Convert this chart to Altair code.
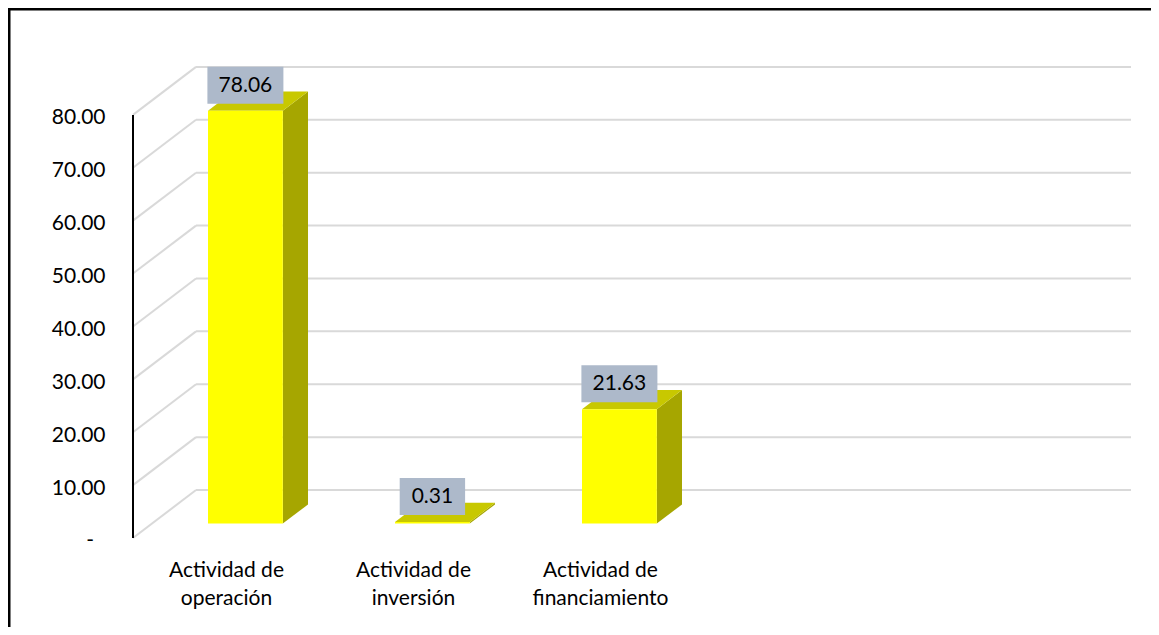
import altair as alt
import pandas as pd

# ---- data ----
categories = ["Actividad de\noperación", "Actividad de\ninversión", "Actividad de\nfinanciamiento"]
values = [78.06, 0.31, 21.63]
value_labels = ["78.06", "0.31", "21.63"]
n_slots = 5
y_ticks = [0, 10, 20, 30, 40, 50, 60, 70, 80]
zero_label = "-"

# ---- 3D projection settings (data units) ----
DX, DY = 0.337, 9.07      # depth of the back wall
Z0, Z1 = 0.3, 0.7         # depth span of the bars
B0, B1 = 0.3, 0.7         # bar span inside its slot
XMAX = n_slots + DX
YMAX = 90
W, H = 998, 476
PX = W / XMAX

FONT = "Lato"

xs = alt.Scale(domain=[0, XMAX], nice=False, zero=False)
ys = alt.Scale(domain=[0, YMAX], nice=False, zero=False)

yaxis = alt.Axis(values=y_ticks, title=None, grid=False, domain=False, ticks=False, tickSize=0,
                 labelPadding=28, labelOffset=3, labelFont=FONT, labelFontSize=21,
                 labelColor="#000000",
                 labelExpr="datum.value == 0 ? '' : format(datum.value, ',.2f')")


def X(field):
    return alt.X(field, scale=xs, axis=None)


def Y(field):
    return alt.Y(field, scale=ys, axis=yaxis)


front = pd.DataFrame({
    "x": [i + B0 + Z0 * DX for i in range(len(values))],
    "x2": [i + B1 + Z0 * DX for i in range(len(values))],
    "y": [Z0 * DY for _ in values],
    "y2": [v + Z0 * DY for v in values],
})

side_rows, top_rows = [], []
for i, v in enumerate(values):
    for z in (Z0, Z1):
        side_rows.append({"bar": i, "x": i + B1 + z * DX, "y": v + z * DY, "ybot": z * DY})
        top_rows.append({"bar": i, "y": v + z * DY, "xl": i + B0 + z * DX, "xr": i + B1 + z * DX})
side = pd.DataFrame(side_rows)
top = pd.DataFrame(top_rows)

lab_rows = []
for i, (v, t) in enumerate(zip(values, value_labels)):
    cx = i + 0.5 + Z0 * DX
    hw = (len(t) * 10.6 + 23) / 2 / PX
    lab_rows.append({"cx": cx, "xl": cx - hw, "xr": cx + hw, "y": v + Z0 * DY, "label": t})
labels = pd.DataFrame(lab_rows)

grid = pd.DataFrame({"x": [DX] * len(y_ticks), "x2": [n_slots + DX] * len(y_ticks),
                     "y": [t + DY for t in y_ticks]})
diag = pd.DataFrame({"x": [0.0] * len(y_ticks), "x2": [DX] * len(y_ticks),
                     "y": y_ticks, "y2": [t + DY for t in y_ticks]})
axis_df = pd.DataFrame({"x": [0.0], "y": [y_ticks[0]], "y2": [y_ticks[-1]]})
zero_df = pd.DataFrame({"x": [0.0], "y": [y_ticks[0]], "text": [zero_label]})
cats = pd.DataFrame({"x": [i + 0.5 for i in range(len(categories))], "y": [0.0] * len(categories),
                     "text": categories})

GRID_COLOR = "#D9D9D9"

grid_layer = alt.Chart(grid).mark_rule(color=GRID_COLOR, strokeWidth=2).encode(
    x=X("x:Q"), x2="x2:Q", y=Y("y:Q"))

diag_layer = alt.Chart(diag).mark_rule(color=GRID_COLOR, strokeWidth=2).encode(
    x=X("x:Q"), x2="x2:Q", y=Y("y:Q"), y2="y2:Q")

axis_layer = alt.Chart(axis_df).mark_rule(color="#000000", strokeWidth=2).encode(
    x=X("x:Q"), y=Y("y:Q"), y2="y2:Q")

zero_layer = alt.Chart(zero_df).mark_text(font=FONT, fontSize=21, color="#000000",
                                          align="right", baseline="middle", dx=-39, dy=3).encode(
    x=X("x:Q"), y=Y("y:Q"), text="text:N")

side_layer = alt.Chart(side).mark_area(color="#A6A600", orient="vertical").encode(
    x=X("x:Q"), y=Y("y:Q"), y2="ybot:Q", detail="bar:N")

top_layer = alt.Chart(top).mark_area(color="#C8C800", orient="horizontal").encode(
    y=Y("y:Q"), x=X("xl:Q"), x2="xr:Q", detail="bar:N")

front_layer = alt.Chart(front).mark_rect(color="#FFFF00").encode(
    x=X("x:Q"), x2="x2:Q", y=Y("y:Q"), y2="y2:Q")

box_layer = alt.Chart(labels).mark_rect(color="#ADB9CA", yOffset=-44, y2Offset=-7).encode(
    x=X("xl:Q"), x2="xr:Q", y=Y("y:Q"), y2="y:Q")

text_layer = alt.Chart(labels).mark_text(font=FONT, fontSize=21, color="#000000",
                                         baseline="middle", align="center", dy=-25).encode(
    x=X("cx:Q"), y=Y("y:Q"), text="label:N")

cat_layer = alt.Chart(cats).mark_text(font=FONT, fontSize=21, color="#000000", align="center",
                                      baseline="alphabetic", dy=39, lineBreak="\n",
                                      lineHeight=28).encode(
    x=X("x:Q"), y=Y("y:Q"), text="text:N")

border_layer = alt.Chart(pd.DataFrame({"k": [0]})).mark_rect(
    fill="transparent", stroke="#000000", strokeWidth=3).encode(
    x=alt.value(-124), y=alt.value(-53), x2=alt.value(3000), y2=alt.value(3000))

chart = alt.layer(
    grid_layer, diag_layer, axis_layer, zero_layer, side_layer, top_layer, front_layer,
    box_layer, text_layer, cat_layer, border_layer
).properties(
    width=W, height=H,
    autosize=alt.AutoSizeParams(type="none"),
    padding={"left": 125, "top": 54, "right": 20, "bottom": 89},
    background="#FFFFFF",
).configure_view(stroke="transparent")

chart.save("out.html", embed_options={"renderer": "svg", "actions": False})
